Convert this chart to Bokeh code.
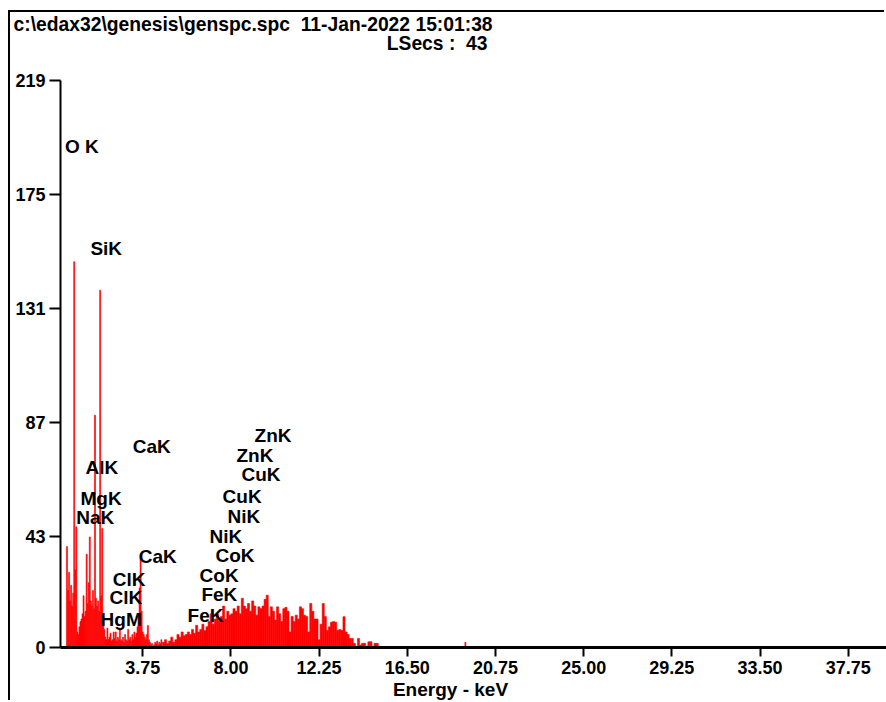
import numpy as np
from bokeh.plotting import figure
from bokeh.models import Range1d, FixedTicker, Label, PrintfTickFormatter
from bokeh.core.properties import value
from bokeh.embed import file_html
from bokeh.resources import INLINE

# ---------------- data ----------------
header_line1 = "c:\\edax32\\genesis\\genspc.spc \u00a011-Jan-2022 15:01:38"
header_line2 = "LSecs : \u00a043"
x_title = "Energy - keV"

x_ticks = [3.75, 8.00, 12.25, 16.50, 20.75, 25.00, 29.25, 33.50, 37.75]
y_ticks = [0, 43, 87, 131, 175, 219]

# low-energy part, 0.05 keV channels starting at 0.10 keV
low_start, low_step = 0.10, 0.05
low_counts = [39, 22, 29, 18, 24, 16, 21, 149, 30, 46.6,
              6, 5, 8, 10, 11, 13, 20, 12, 14, 36,
              17, 25, 42.7, 18, 16, 22, 15, 89.7, 19, 16,
              18, 14, 138, 20, 46, 12, 7, 4, 3, 7.5,
              3, 4, 5.5, 2.5, 3, 6, 3.5, 6, 2.5, 4,
              3, 7.5, 3, 2.5, 4, 2, 5, 3, 2.5, 7,
              3, 4, 2.5, 5, 3, 6, 4, 5.5, 8, 12,
              23, 36, 14, 6, 5, 4, 3, 5, 8.5, 3,
              2, 1, 1.5, 0.5, 1, 2, 1.5, 2.5, 1, 2,
              1.5, 3]

# higher-energy part, 0.1 keV channels starting at 4.75 keV
high_start, high_step = 4.75, 0.10
high_counts = [2, 3, 1.5, 2.5, 4, 2, 3, 5, 4, 6,
               4.5, 5, 6, 5, 7, 5.5, 8.6, 6, 7, 9,
               6.5, 8, 10, 13, 9, 11, 13, 10, 12, 16,
               11, 14, 12.5, 13, 15, 14, 16, 13, 19, 16,
               15, 17, 14, 18, 16, 12.5, 15.7, 15, 16, 18.6,
               20.2, 12, 15.7, 14, 10.6, 15.7, 13, 10, 15, 15.5,
               14, 6, 12, 10, 12.5, 11, 15.7, 15, 12.5, 12,
               6, 17, 14, 11, 11, 3, 9, 17, 12, 6.6,
               8, 9.8, 10, 9.8, 6.6, 7, 6.6, 11.9, 6, 5,
               3.5, 3.5, 1.6, 0.5, 3.5, 1, 1.6, 1.6, 0.5, 2.2,
               2.2, 0.5, 1.6, 1.6, 0.5]

trace_kev = [19.30]
trace_counts = [2]

label_text = ["O K", "SiK", "CaK", "AlK", "MgK", "NaK", "CaK", "ClK", "ClK", "HgM",
              "ZnK", "ZnK", "CuK", "CuK", "NiK", "NiK", "CoK", "CoK", "FeK", "FeK"]
label_kev = [0.00, 1.23, 3.27, 0.99, 0.75, 0.55, 3.56, 2.31, 2.15, 1.72,
             9.14, 8.27, 8.51, 7.60, 7.84, 6.97, 7.26, 6.49, 6.58, 5.91]
label_counts = [193.6, 154, 77.5, 69.7, 57.4, 50.2, 35, 26.4, 19.3, 11,
                82, 74.2, 66.9, 58.4, 50.7, 43.0, 35.6, 27.9, 20.6, 12.5]

# ---------------- figure ----------------
FONT = "Liberation Sans"
FS = "19px"
HEAD_FS = "19.3px"
TICK_FS = "18px"
RED = "#ff0000"

low_kev = low_start + low_step * np.arange(len(low_counts))
high_kev = high_start + high_step * np.arange(len(high_counts))

p = figure(width=876, height=690, tools="",
           x_range=Range1d(-0.212, 39.595), y_range=Range1d(0, 219),
           output_backend="svg", toolbar_location=None,
           min_border_left=50, min_border_right=0,
           min_border_top=68, min_border_bottom=55)
p.title.visible = False
# window frame of the original screenshot: thin black edge on the left and top
p.styles = {"margin-left": "10px", "margin-top": "12px",
            "box-shadow": "-2px -2px 0 0 black"}
p.outline_line_color = None
p.xgrid.visible = False
p.ygrid.visible = False
p.background_fill_color = "white"
p.border_fill_color = "white"

p.vbar(x=low_kev, width=low_step, top=low_counts, bottom=0,
       fill_color=RED, line_color=RED, line_width=0.6)
p.vbar(x=high_kev, width=high_step, top=high_counts, bottom=0,
       fill_color=RED, line_color=RED, line_width=0.6)
p.vbar(x=trace_kev, width=0.05, top=trace_counts, bottom=0,
       fill_color=RED, line_color=RED, line_width=0.6)

p.text(x=label_kev, y=label_counts, text=label_text,
       text_font=value(FONT), text_font_style="bold", text_font_size=FS,
       text_align="left", text_baseline="middle", text_color="black")

for ax in (p.xaxis[0], p.yaxis[0]):
    ax.major_label_text_font = FONT
    ax.major_label_text_font_style = "bold"
    ax.major_label_text_font_size = TICK_FS
    ax.major_label_text_color = "black"
    ax.axis_line_color = "black"
    ax.major_tick_line_color = "black"
    ax.major_tick_line_width = 2
    ax.major_tick_in = 0
    ax.minor_tick_in = 0
    ax.minor_tick_out = 0

p.xaxis.ticker = FixedTicker(ticks=x_ticks)
p.xaxis.formatter = PrintfTickFormatter(format="%.2f")
p.xaxis.axis_line_width = 3
p.xaxis.major_tick_out = 9
p.xaxis.major_label_standoff = 4

p.yaxis.ticker = FixedTicker(ticks=y_ticks)
p.yaxis.axis_line_width = 2
p.yaxis.major_tick_out = 11
p.yaxis.major_label_standoff = 4

common = dict(x_units="screen", y_units="screen", text_font=FONT,
              text_font_style="bold", text_color="black",
              text_baseline="alphabetic")
# header lines live in the top border, the axis title in the bottom border
p.add_layout(Label(x=427, y=37, text=header_line2, text_align="right",
                   text_font_size=HEAD_FS, **common), "above")
p.add_layout(Label(x=-47, y=35, text=header_line1, text_align="left",
                   text_font_size=HEAD_FS, **common), "above")
p.add_layout(Label(x=390, y=8, text=x_title, text_align="center",
                   text_font_size=FS, **common), "below")

open("out.html", "w").write(file_html(p, INLINE))
